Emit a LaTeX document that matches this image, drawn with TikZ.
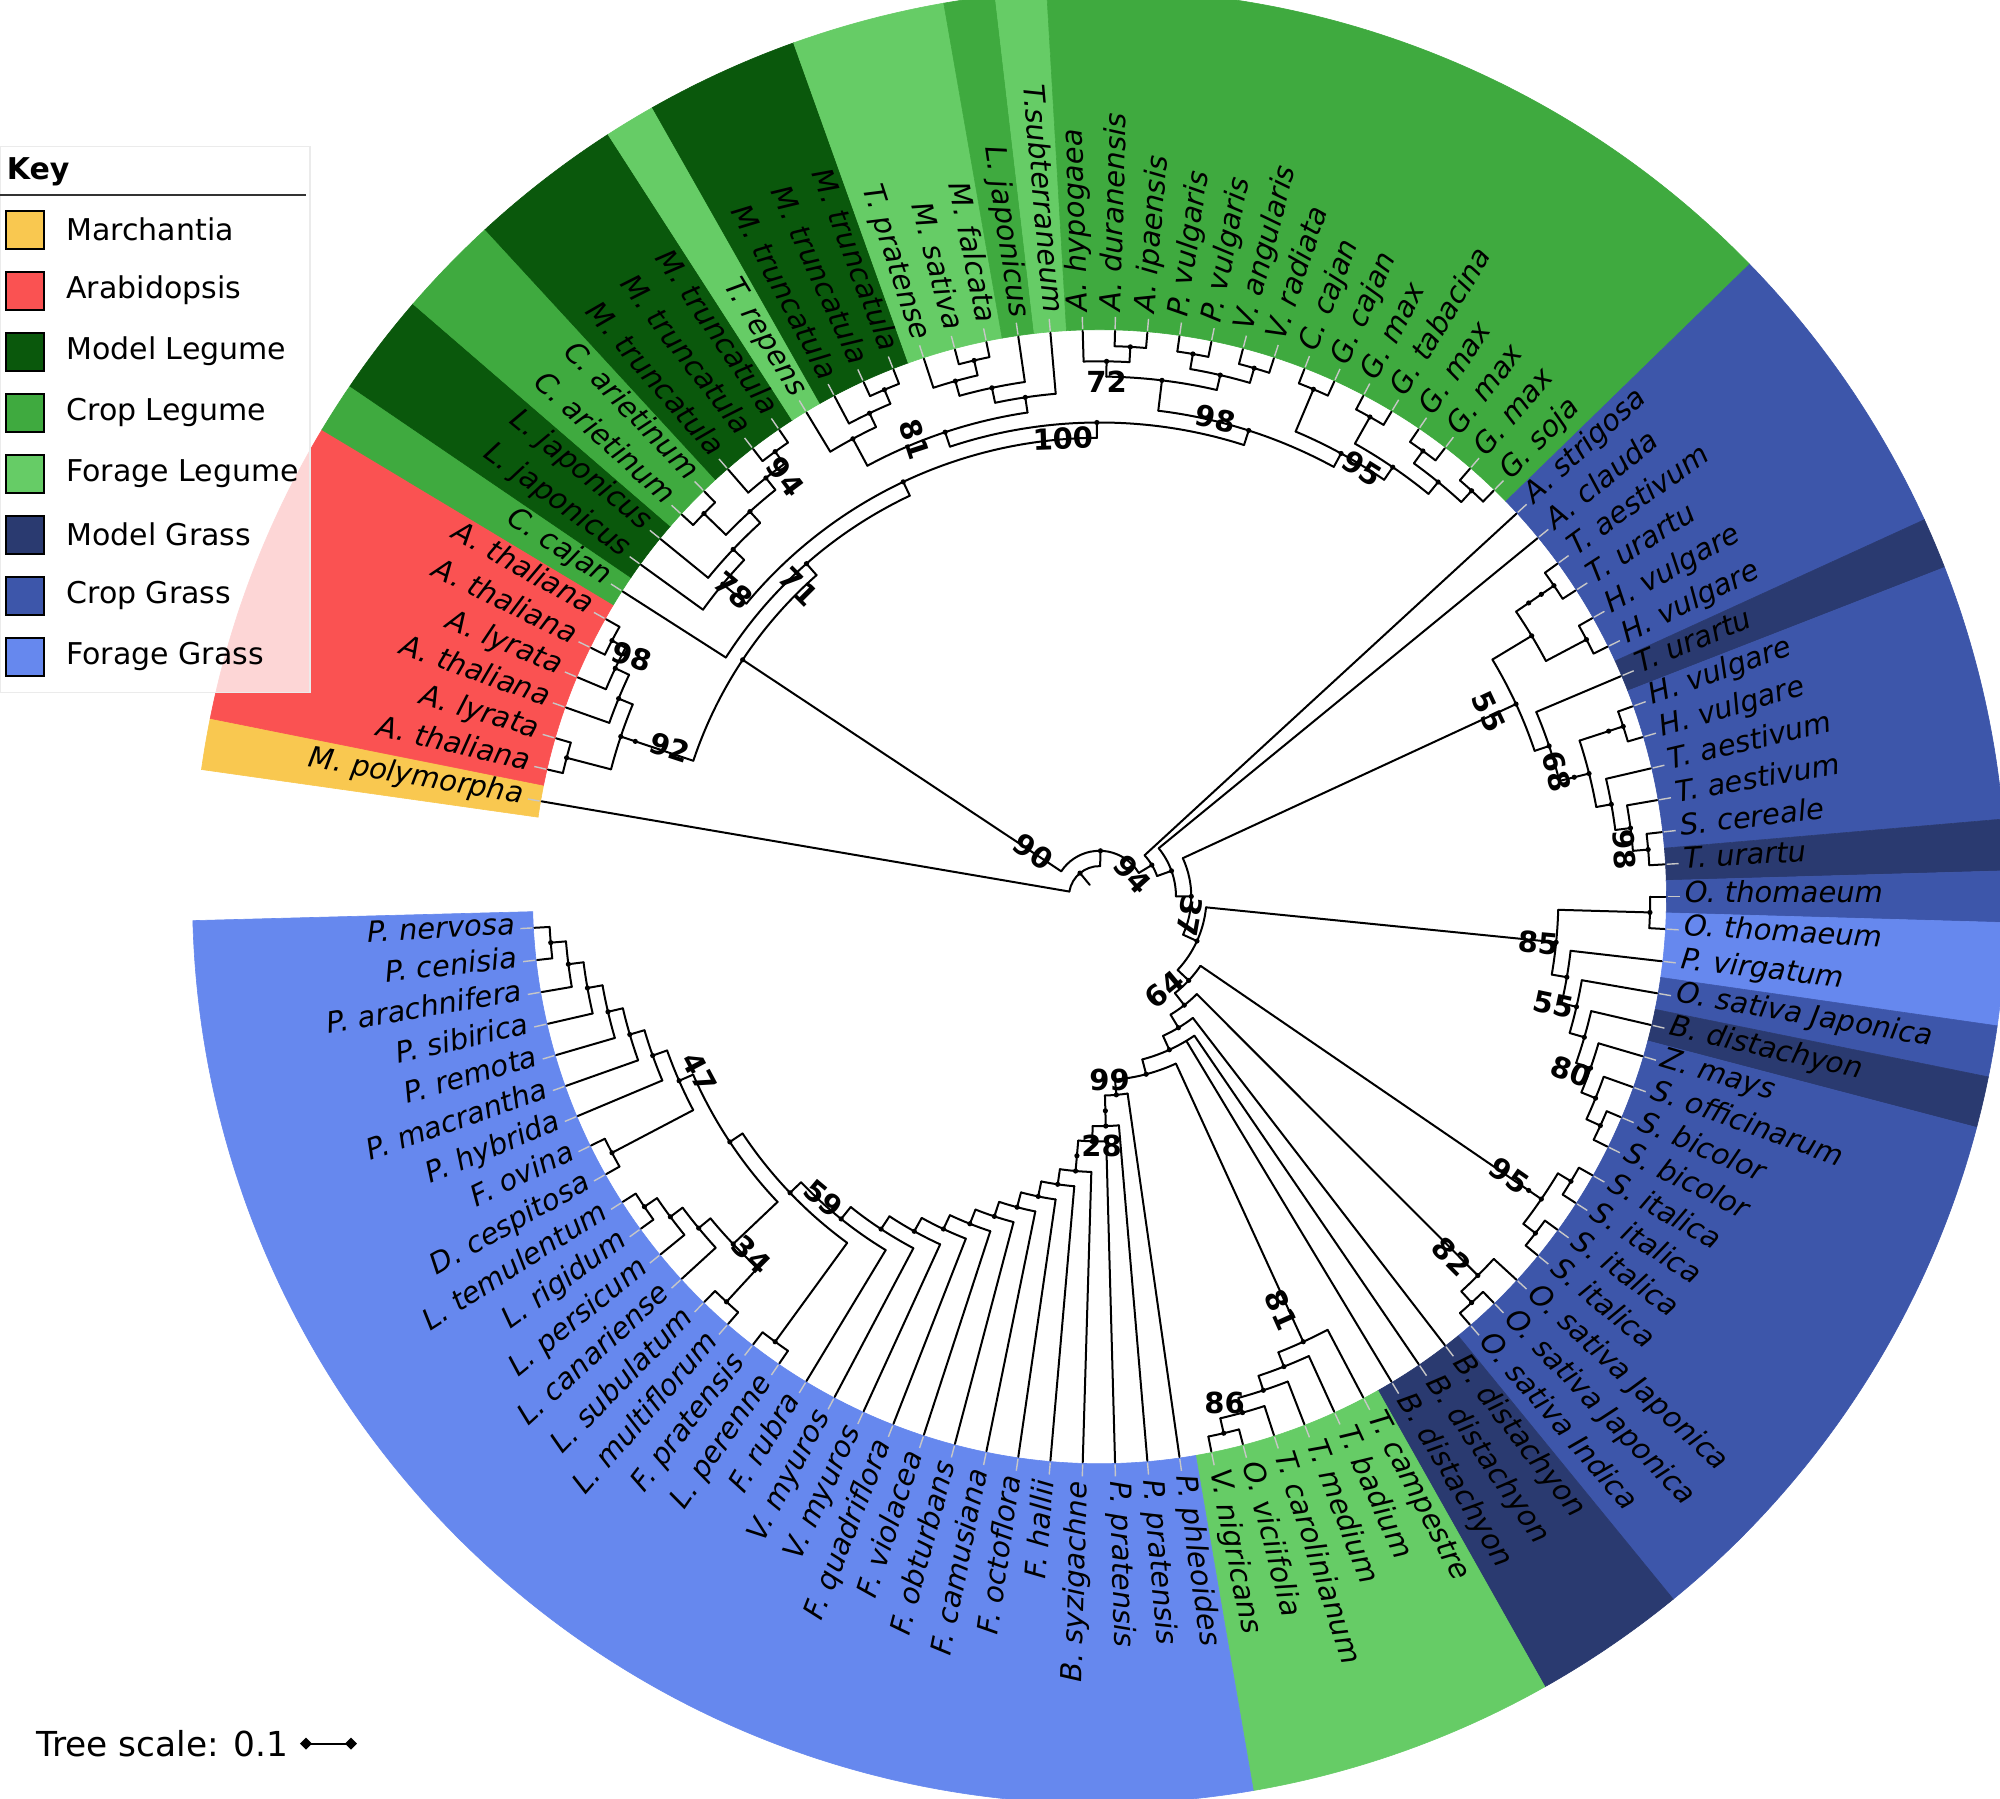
\documentclass[tikz,border=0pt]{standalone}
\usepackage{fontspec}
\setmainfont{DejaVu Sans}
\definecolor{cMar}{HTML}{F9C850}
\definecolor{cAra}{HTML}{FA5252}
\definecolor{cML}{HTML}{0A580C}
\definecolor{cCL}{HTML}{3FAA3F}
\definecolor{cFL}{HTML}{66CC66}
\definecolor{cMG}{HTML}{2A3A70}
\definecolor{cCG}{HTML}{3D56AA}
\definecolor{cFG}{HTML}{6688EE}
\def\Azero{170.3}
\def\Astep{3.275}
\def\Rleaf{566}
\def\Rin{567}
\def\Rout{907}
% leaf: index, label
\newcommand\Lf[2]{%
  \pgfmathsetmacro\la{\Azero-(#1-1)*\Astep}%
  \expandafter\xdef\csname A-L#1\endcsname{\la}%
  \expandafter\xdef\csname H-L#1\endcsname{0}%
  \expandafter\xdef\csname R-L#1\endcsname{\Rleaf}%
  \coordinate (L#1) at (\la:\Rleaf);
  \draw[dashline] (\la:568) -- (\la:580);
  \pgfmathtruncatemacro\flip{(\la>94 || \la<-90) ? 1 : 0}%
  \ifnum\flip=1
    \pgfmathsetmacro\lr{\la+180}%
    \node[leaflab, anchor=east, rotate=\lr] (T#1) at (\la:585) {#2};
  \else
    \node[leaflab, anchor=west, rotate=\la] (T#1) at (\la:585) {#2};
  \fi}
% internal node: id, children
\newcommand\In[2]{%
  \gdef\fc{}\gdef\hm{0}%
  \foreach \kid in {#2}{%
    \ifx\fc\empty\xdef\fc{\kid}\fi
    \xdef\lc{\kid}%
    \edef\tmph{\csname H-\kid\endcsname}%
    \ifnum\tmph>\hm\relax\xdef\hm{\tmph}\fi
  }%
  \pgfmathtruncatemacro\hh{\hm+1}%
  \pgfmathsetmacro\rr{\Rleaf*(1-\hh/37)}%
  \edef\aF{\csname A-\fc\endcsname}%
  \edef\aL{\csname A-\lc\endcsname}%
  \pgfmathsetmacro\aM{(\aF+\aL)/2}%
  \expandafter\xdef\csname A-#1\endcsname{\aM}%
  \expandafter\xdef\csname H-#1\endcsname{\hh}%
  \expandafter\xdef\csname R-#1\endcsname{\rr}%
  \draw[br] (\aF:\rr) arc[start angle=\aF, end angle=\aL, radius=\rr];
  \foreach \kid in {#2}{%
    \edef\ac{\csname A-\kid\endcsname}\edef\rc{\csname R-\kid\endcsname}%
    \draw[br] (\ac:\rr) -- (\ac:\rc);}%
  \coordinate (#1) at (\aM:\rr);
  \fill (#1) circle[radius=2.6];
}
% ring sector: first, last, colour
\newcommand\Sec[3]{%
  \pgfmathsetmacro\sa{\Azero-(#1-1)*\Astep+\Astep/2}%
  \pgfmathsetmacro\sb{\Azero-(#2-1)*\Astep-\Astep/2}%
  \fill[#3, draw=#3, line width=0.3pt] (\sa:\Rin) arc[start angle=\sa, end angle=\sb, radius=\Rin]
    -- (\sb:\Rout) arc[start angle=\sb, end angle=\sa, radius=\Rout] -- cycle;}
\begin{document}
\begin{tikzpicture}[x=0.5pt,y=0.5pt,
  br/.style={line width=1pt, line cap=round, line join=round},
  dashline/.style={draw=black!22, line width=0.7pt},
  leaflab/.style={inner sep=0pt, font=\fontsize{14.5}{16}\selectfont\itshape, text height=0.74em, text depth=0.21em},
  bs/.style={inner sep=0pt, font=\fontsize{14.5}{16}\selectfont\bfseries},
  legsq/.style={draw=black, line width=1pt, minimum size=19pt, inner sep=0pt},
  legtx/.style={anchor=west, inner sep=0pt, font=\fontsize{15}{17}\selectfont}]
\useasboundingbox (-1099.5,-901.3) rectangle (900.5,896.7);
\fill[white] (-1099.5,-901.3) rectangle (900.5,896.7);
\begin{scope}
\clip (-1099.5,-901.3) rectangle (900.5,896.7);
\Sec{1}{1}{cMar}
\Sec{2}{7}{cAra}
\Sec{8}{8}{cCL}
\Sec{9}{10}{cML}
\Sec{11}{12}{cCL}
\Sec{13}{15}{cML}
\Sec{16}{16}{cFL}
\Sec{17}{19}{cML}
\Sec{20}{22}{cFL}
\Sec{23}{23}{cCL}
\Sec{24}{24}{cFL}
\Sec{25}{39}{cCL}
\Sec{40}{45}{cCG}
\Sec{46}{46}{cMG}
\Sec{47}{51}{cCG}
\Sec{52}{52}{cMG}
\Sec{53}{53}{cCG}
\Sec{54}{55}{cFG}
\Sec{56}{56}{cCG}
\Sec{57}{57}{cMG}
\Sec{58}{68}{cCG}
\Sec{69}{71}{cMG}
\Sec{72}{77}{cFL}
\Sec{78}{107}{cFG}
\end{scope}
% leaves
\Lf{1}{M. polymorpha}
\Lf{2}{A. thaliana}
\Lf{3}{A. lyrata}
\Lf{4}{A. thaliana}
\Lf{5}{A. lyrata}
\Lf{6}{A. thaliana}
\Lf{7}{A. thaliana}
\Lf{8}{C. cajan}
\Lf{9}{L. japonicus}
\Lf{10}{L. japonicus}
\Lf{11}{C. arietinum}
\Lf{12}{C. arietinum}
\Lf{13}{M. truncatula}
\Lf{14}{M. truncatula}
\Lf{15}{M. truncatula}
\Lf{16}{T. repens}
\Lf{17}{M. truncatula}
\Lf{18}{M. truncatula}
\Lf{19}{M. truncatula}
\Lf{20}{T. pratense}
\Lf{21}{M. sativa}
\Lf{22}{M. falcata}
\Lf{23}{L. japonicus}
\Lf{24}{T.subterraneum}
\Lf{25}{A. hypogaea}
\Lf{26}{A. duranensis}
\Lf{27}{A. ipaensis}
\Lf{28}{P. vulgaris}
\Lf{29}{P. vulgaris}
\Lf{30}{V. angularis}
\Lf{31}{V. radiata}
\Lf{32}{C. cajan}
\Lf{33}{G. cajan}
\Lf{34}{G. max}
\Lf{35}{G. tabacina}
\Lf{36}{G. max}
\Lf{37}{G. max}
\Lf{38}{G. max}
\Lf{39}{G. soja}
\Lf{40}{A. strigosa}
\Lf{41}{A. clauda}
\Lf{42}{T. aestivum}
\Lf{43}{T. urartu}
\Lf{44}{H. vulgare}
\Lf{45}{H. vulgare}
\Lf{46}{T. urartu}
\Lf{47}{H. vulgare}
\Lf{48}{H. vulgare}
\Lf{49}{T. aestivum}
\Lf{50}{T. aestivum}
\Lf{51}{S. cereale}
\Lf{52}{T. urartu}
\Lf{53}{O. thomaeum}
\Lf{54}{O. thomaeum}
\Lf{55}{P. virgatum}
\Lf{56}{O. sativa Japonica}
\Lf{57}{B. distachyon}
\Lf{58}{Z. mays}
\Lf{59}{S. officinarum}
\Lf{60}{S. bicolor}
\Lf{61}{S. bicolor}
\Lf{62}{S. italica}
\Lf{63}{S. italica}
\Lf{64}{S. italica}
\Lf{65}{S. italica}
\Lf{66}{O. sativa Japonica}
\Lf{67}{O. sativa Japonica}
\Lf{68}{O. sativa Indica}
\Lf{69}{B. distachyon}
\Lf{70}{B. distachyon}
\Lf{71}{B. distachyon}
\Lf{72}{T. campestre}
\Lf{73}{T. badium}
\Lf{74}{T. medium}
\Lf{75}{T. carolinianum}
\Lf{76}{O. viciifolia}
\Lf{77}{V. nigricans}
\Lf{78}{P. phleoides}
\Lf{79}{P. pratensis}
\Lf{80}{P. pratensis}
\Lf{81}{B. syzigachne}
\Lf{82}{F. hallii}
\Lf{83}{F. octoflora}
\Lf{84}{F. camusiana}
\Lf{85}{F. obturbans}
\Lf{86}{F. violacea}
\Lf{87}{F. quadriflora}
\Lf{88}{V. myuros}
\Lf{89}{V. myuros}
\Lf{90}{F. rubra}
\Lf{91}{L. perenne}
\Lf{92}{F. pratensis}
\Lf{93}{L. multiflorum}
\Lf{94}{L. subulatum}
\Lf{95}{L. canariense}
\Lf{96}{L. persicum}
\Lf{97}{L. rigidum}
\Lf{98}{L. temulentum}
\Lf{99}{D. cespitosa}
\Lf{100}{F. ovina}
\Lf{101}{P. hybrida}
\Lf{102}{P. macrantha}
\Lf{103}{P. remota}
\Lf{104}{P. sibirica}
\Lf{105}{P. arachnifera}
\Lf{106}{P. cenisia}
\Lf{107}{P. nervosa}
% Arabidopsis
\In{n23}{L2,L3}
\In{n67}{L6,L7}
\In{n567}{L5,n67}
\In{n4567}{L4,n567}
\In{nAr}{n23,n4567}
\In{nAru}{nAr}
% legumes
\In{n1112}{L11,L12}
\In{n1415}{L14,L15}
\In{n1315}{L13,n1415}
\In{nY}{n1112,n1315}
\In{nX}{L10,nY}
\In{n78}{L9,nX}
\In{n1819}{L18,L19}
\In{n1719}{L17,n1819}
\In{n1619}{L16,n1719}
\In{n2122}{L21,L22}
\In{n2022}{L20,n2122}
\In{n2023}{n2022,L23}
\In{n2024}{n2023,L24}
\In{n81}{n1619,n2024}
\In{n2627}{L26,L27}
\In{n72}{L25,n2627}
\In{n2829}{L28,L29}
\In{n3031}{L30,L31}
\In{n2831}{n2829,n3031}
\In{nAP}{n72,n2831}
\In{n3233}{L32,L33}
\In{n3435}{L34,L35}
\In{n3637}{L36,L37}
\In{n3839}{L38,L39}
\In{n3639}{n3637,n3839}
\In{n3439}{n3435,n3639}
\In{n3239}{n3233,n3439}
\In{n98}{nAP,n3239}
\In{n100}{n81,n98}
\In{nR}{n78,n100}
\In{nQ}{L8,nR}
\In{nP}{nAru,nQ}
% Triticeae
\In{n4243}{L42,L43}
\In{n4243a}{n4243}
\In{n4243b}{n4243a}
\In{n4445}{L44,L45}
\In{n4245}{n4243b,n4445}
\In{n4748}{L47,L48}
\In{n4748a}{n4748}
\In{n5152}{L51,L52}
\In{n5052}{L50,n5152}
\In{n4952}{L49,n5052}
\In{nXt}{n4748a,n4952}
\In{nXtu}{nXt}
\In{n68}{L46,nXtu}
\In{n55}{n4245,n68}
% Oryza / Panicum / Sorghum
\In{n5354}{L53,L54}
\In{n6061}{L60,L61}
\In{n5961}{L59,n6061}
\In{nZ}{L58,n5961}
\In{nYg}{L57,nZ}
\In{nXg}{L56,nYg}
\In{n55b}{L55,nXg}
\In{n85}{n5354,n55b}
\In{n6263}{L62,L63}
\In{n6465}{L64,L65}
\In{n6265}{n6263,n6465}
\In{n6265u}{n6265}
\In{n6768}{L67,L68}
\In{n6668}{L66,n6768}
% forage legumes
\In{n7677}{L76,L77}
\In{n7577}{L75,n7677}
\In{n7477}{L74,n7577}
\In{n7377}{L73,n7477}
\In{n81b}{L72,n7377}
% forage grasses
\In{n106}{L106,L107}
\In{n105}{L105,n106}
\In{n104}{L104,n105}
\In{n103}{L103,n104}
\In{n102}{L102,n103}
\In{n101}{L101,n102}
\In{n99100}{L99,L100}
\In{n47}{n99100,n101}
\In{n9798}{L97,L98}
\In{n9698}{L96,n9798}
\In{n9598}{L95,n9698}
\In{n9394}{L93,L94}
\In{n34}{n9394,n9598}
\In{nFa}{n34,n47}
\In{n9192}{L91,L92}
\In{nFb}{n9192,nFa}
\In{nFc}{L90,nFb}
\In{nFd}{L89,nFc}
\In{nFe}{L88,nFd}
\In{nFf}{L87,nFe}
\In{nFg}{L86,nFf}
\In{nFh}{L85,nFg}
\In{nFi}{L84,nFh}
\In{nFj}{L83,nFi}
\In{nFk}{L82,nFj}
\In{nFl}{L81,nFk}
\In{nFlu}{nFl}
\In{nFm}{L80,nFlu}
\In{nFn}{L79,nFm}
\In{nFnu}{nFn}
\In{nFo}{L78,nFnu}
\In{n99}{n81b,nFo}
% backbone
\In{nG7}{L70,L71,n99}
\In{nG6}{L69,nG7}
\In{nG5}{n6668,nG6}
\In{nG4}{n6265u,nG5}
\In{nG3}{n85,nG4}
\In{nG2}{n55,nG3}
\In{nG1}{L41,nG2}
\In{nG0}{L40,nG1}
\In{nMain}{nP,nG0}
\In{nRoot}{L1,nMain}
\edef\ar{\csname A-nRoot\endcsname}
\coordinate (rootbase) at (\ar:15.3);
\draw[br] (nRoot) -- (rootbase);
% bootstrap values
\foreach \t/\x/\y/\r [count=\i] in {90/-66/45/-35, 94/33/22/-48, 37/90/-20/-100, 64/65/-93/40,
  99/10/-183/0, 28/2/-249/0, 85/439/-46/-5, 55/389/185/-65, 68/457/125/-75, 98/525/47/-85,
  55/454/-108/-12, 80/472/-175/-20, 95/410/-279/-35, 82/352/-360/-45, 81/182/-413/-66,
  86/125/-506/0, 59/-276/-302/-40, 34/-348/-358/-45, 47/-400/-176/-62, 71/-301/310/-45,
  78/-366/306/-40, 94/-314/420/-53, 81/-185/457/-72, 100/-36/458/2, 72/7/515/0,
  98/116/478/-12, 95/263/428/-32, 98/-468/240/-18, 92/-430/149/-18}
  \node[bs, rotate=\r] (bs\i) at (\x,\y) {\t};
% legend
\fill[white, fill opacity=0.77] (-1099.5,204) rectangle (-789.5,750);
\draw[black!8, line width=0.6pt] (-1099.5,204) rectangle (-789.5,750);
\node[anchor=west, inner sep=0pt, font=\fontsize{15}{17}\selectfont\bfseries] (key) at (-1093,724.5) {Key};
\coordinate (kl) at (-1099.5,701.5);
\coordinate (kr) at (-793.5,701.5);
\draw[black!80, line width=1.25pt] (kl) -- (kr);
\foreach \c/\t [count=\i from 0] in {cMar/Marchantia, cAra/Arabidopsis, cML/Model Legume,
  cCL/Crop Legume, cFL/Forage Legume, cMG/Model Grass, cCG/Crop Grass, cFG/Forage Grass}{
  \node[legsq, fill=\c] (sq\i) at (-1074.5,667.1-61*\i) {};
  \node[legtx] (lt\i) at (-1033.5,667.1-61*\i) {\t};
}
% tree scale
\node[anchor=west, inner sep=0pt, font=\fontsize{17.2}{19}\selectfont] (ts) at (-1063.5,-846.9) {Tree scale: 0.1};
\coordinate (sb1) at (-793.5,-846.9);
\coordinate (sb2) at (-748.5,-846.9);
\draw[line width=1.1pt] (sb1) -- (sb2);
\fill (sb1) +(-6,0) -- +(0,6) -- +(6,0) -- +(0,-6) -- cycle;
\fill (sb2) +(-6,0) -- +(0,6) -- +(6,0) -- +(0,-6) -- cycle;
\end{tikzpicture}
\end{document}
